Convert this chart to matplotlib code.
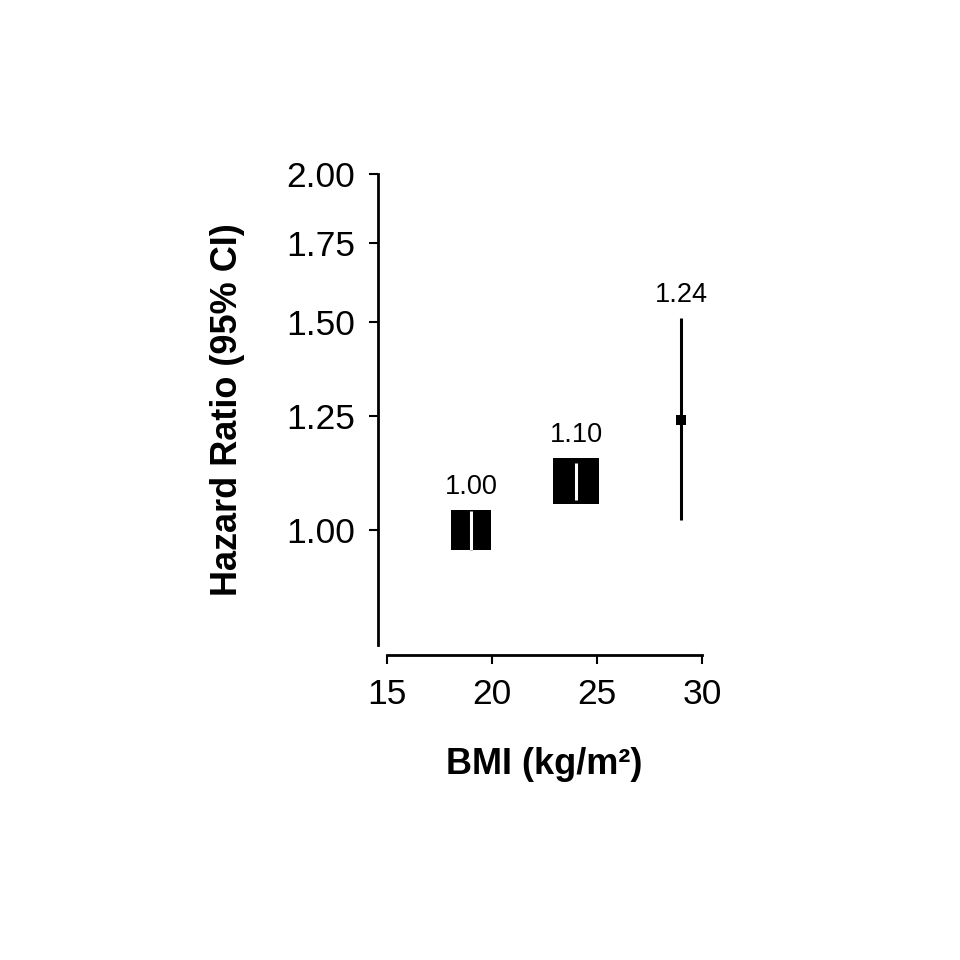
import matplotlib
matplotlib.use("Agg")
import matplotlib.pyplot as plt
from matplotlib.ticker import FixedLocator, NullLocator, FormatStrFormatter

# BMI group midpoints, hazard ratios and 95% CI
bmi = [19, 24, 29]
hr = [1.00, 1.10, 1.24]
ci_low = [0.963, 1.06, 1.02]
ci_high = [1.038, 1.14, 1.51]
box_pt = [29, 33, 7.5]          # square side in points (weight)
hr_labels = ["1.00", "1.10", "1.24"]
yticks = [1.00, 1.25, 1.50, 1.75, 2.00]
xticks = [15, 20, 25, 30]

plt.rcParams["font.family"] = ["Liberation Sans", "DejaVu Sans"]

fig = plt.figure(figsize=(9.6, 9.6), dpi=100)
ax = fig.add_axes([387 / 960, 1 - 645 / 960, 315 / 960, 471 / 960])
ax.set_yscale("log")
ax.set_xlim(15, 30)
ax.set_ylim(0.8, 2.0)

for s in ("top", "right"):
    ax.spines[s].set_visible(False)
ax.spines["left"].set_position(("outward", 6.5))
ax.spines["bottom"].set_position(("outward", 7.2))
for s in ("left", "bottom"):
    ax.spines[s].set_linewidth(2)

ax.yaxis.set_major_locator(FixedLocator(yticks))
ax.yaxis.set_minor_locator(NullLocator())
ax.yaxis.set_major_formatter(FormatStrFormatter("%.2f"))
ax.set_xticks(xticks)
ax.tick_params(axis="both", length=6.5, width=1.5, labelsize=25.5, pad=10)

inv = ax.transData.inverted()
for x, y, lo, hi, s, lab in zip(bmi, hr, ci_low, ci_high, box_pt, hr_labels):
    ax.plot([x, x], [lo, hi], color="black", lw=2.2, solid_capstyle="butt",
            zorder=2, clip_on=False)
    ax.plot(x, y, marker="s", ms=s, color="black", mew=0, zorder=3, clip_on=False)
    half = s / 2 * fig.dpi / 72
    px, py = ax.transData.transform((x, y))
    top = inv.transform((px, py + half))[1]
    # CI segment inside a big box is drawn white so it stays visible
    if s > 10:
        wtop = inv.transform((px, py + half - 0.7))[1]
        wbot = inv.transform((px, py - half + 0.7))[1]
        wlo, whi = max(lo, wbot), min(hi, wtop)
        if whi > wlo:
            ax.plot([x, x], [wlo, whi], color="white", lw=2.2,
                    solid_capstyle="butt", zorder=4, clip_on=False)
    ax.annotate(lab, (x, max(hi, top)), xytext=(0, 11.5), textcoords="offset points",
                ha="center", va="baseline", fontsize=19.5)

ax.set_xlabel("BMI (kg/m²)", fontsize=26, fontweight="bold")
ax.set_ylabel("Hazard Ratio (95% CI)", fontsize=26, fontweight="bold")
ax.xaxis.set_label_coords(0.5, (645 - 747) / 471)
ax.yaxis.set_label_coords((245 - 387) / 315, 0.5)

fig.savefig("out.png", dpi=100)
